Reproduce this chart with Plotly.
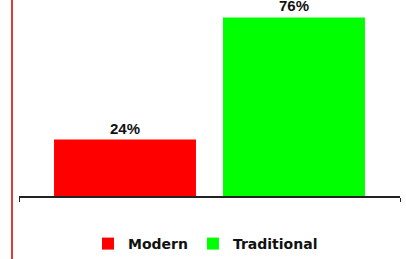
import plotly.graph_objects as go

categories = ["Modern", "Traditional"]
values = [24, 76]
labels = ["24%", "76%"]
colors = ["#ff0000", "#00ff00"]

fig = go.Figure()
for name, v, lab, c in zip(categories, values, labels, colors):
    fig.add_trace(go.Bar(
        x=[""], y=[v], name=name, marker=dict(color=c, line=dict(width=0)),
        text=[lab], textposition="outside", cliponaxis=False,
        textfont=dict(family="Liberation Sans, Arial", size=15, color="#111111"),
    ))

fig.update_layout(
    width=406, height=259,
    margin=dict(l=19, r=6, t=8, b=63, autoexpand=False),
    paper_bgcolor="white", plot_bgcolor="white",
    barmode="group", bargap=0.113, bargroupgap=0.16,
    font=dict(family="Liberation Sans, Arial", color="#1a1a1a"),
    showlegend=True,
    legend=dict(orientation="h", x=0.5 - 4 / 381, xanchor="center", y=-48 / 188, yanchor="middle",
                font=dict(size=14, family="DejaVu Sans", color="#111111", weight="bold"),
                itemwidth=30, traceorder="normal", tracegroupgap=0),
    xaxis=dict(showline=True, linecolor="#222", linewidth=1.5, ticks="outside",
               tickson="boundaries", ticklen=4, tickcolor="#222", showticklabels=False,
               showgrid=False, zeroline=False, fixedrange=True),
    yaxis=dict(range=[0, 80], visible=False, showgrid=False, zeroline=False, fixedrange=True),
)
fig.update_traces(texttemplate="<b>%{text}</b>")
fig.add_shape(type="line", xref="paper", yref="paper",
              x0=-7 / 381, x1=-7 / 381, y0=-63 / 188, y1=1 + 8 / 188,
              line=dict(color="#e03a3a", width=2))
fig.write_html("out.html", config={"displayModeBar": False},
               post_script="document.body.style.margin='0';document.body.style.overflow='hidden';")
